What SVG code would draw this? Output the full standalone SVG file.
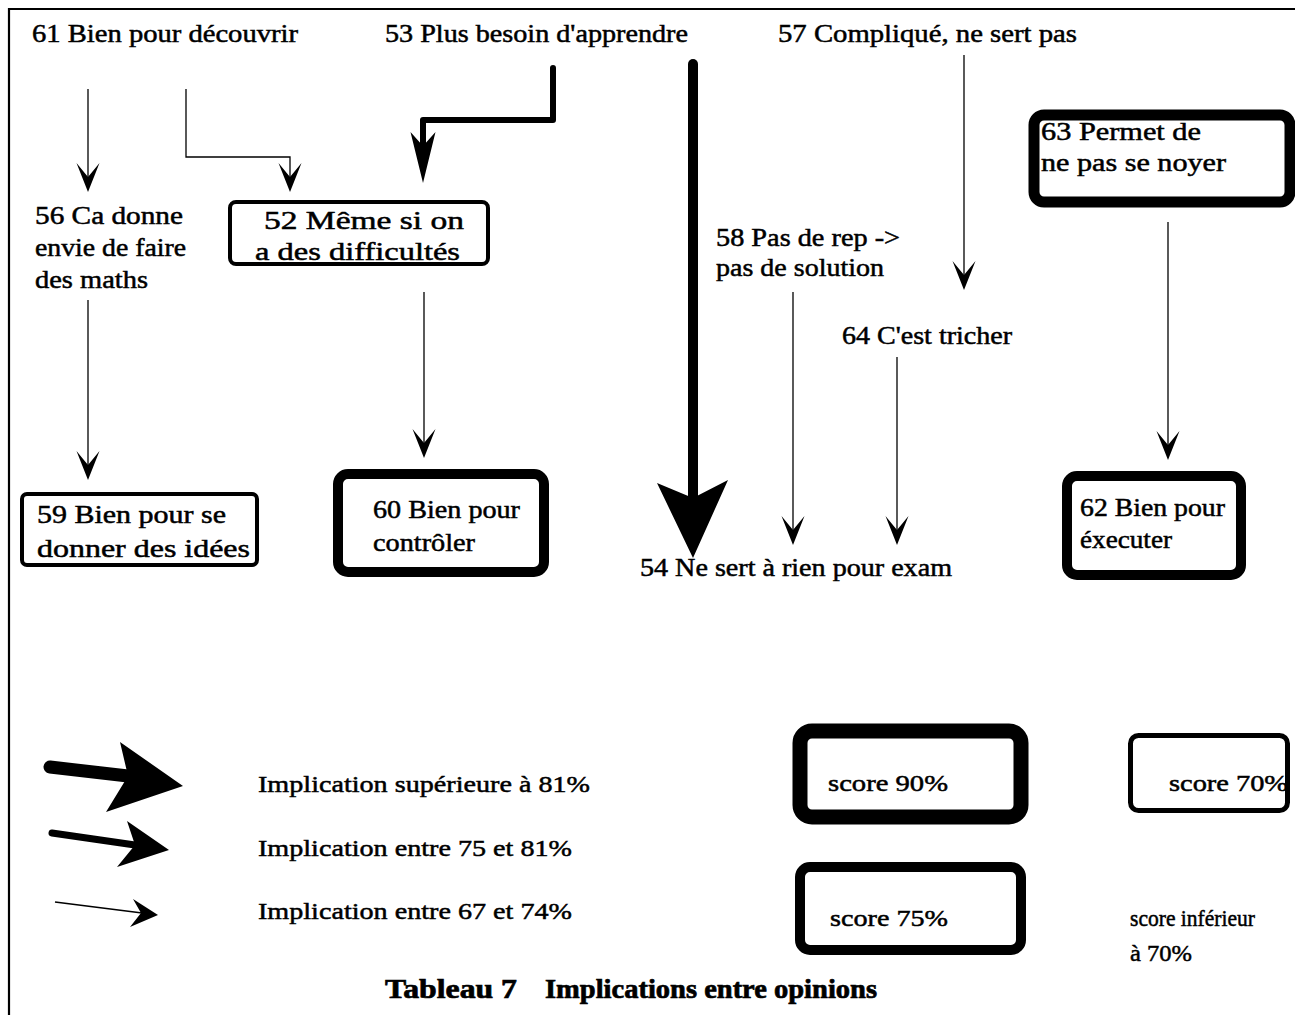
<svg xmlns="http://www.w3.org/2000/svg" width="1295" height="1015" viewBox="0 0 1295 1015">
<style>
text{font-family:"Liberation Serif","Times New Roman",serif;font-size:25px;fill:#000;stroke:#000;stroke-width:0.5}
.t{font-size:24px}
.title{font-size:28px;font-weight:bold;stroke-width:0.7}
.box{fill:none;stroke:#000}
.thin{fill:none;stroke:#000;stroke-width:1.3}
.head{fill:#000;stroke:none}
</style>
<defs>
<path id="hs" d="M-11.5,-29 L0,0 L11.5,-29 L0,-15 Z"/>
</defs>
<rect width="1295" height="1015" fill="#fff"/>
<g id="frame">
<path d="M9,1015 L9,9 L1295,9" fill="none" stroke="#000" stroke-width="2.2"/>
</g>
<g id="connectors">
<path class="thin" d="M88,89 L88,180"/>
<use href="#hs" class="head" x="88" y="192"/>
<path class="thin" d="M186,89 L186,157 L290,157 L290,180"/>
<use href="#hs" class="head" x="290" y="192"/>
<path d="M553,68 L553,120 L423,120 L423,145" fill="none" stroke="#000" stroke-width="6" stroke-linecap="round" stroke-linejoin="round"/>
<path class="head" d="M410.5,132 L423,183 L435.5,132 L423,146 Z"/>
<path d="M693,64 L693,520" fill="none" stroke="#000" stroke-width="10" stroke-linecap="round"/>
<path class="head" d="M657,483 L693,558 L728,480 L693,498 Z"/>
<path class="thin" d="M88,300 L88,468"/>
<use href="#hs" class="head" x="88" y="480"/>
<path class="thin" d="M424,292 L424,445"/>
<use href="#hs" class="head" x="424" y="458"/>
<path class="thin" d="M793,292 L793,533"/>
<use href="#hs" class="head" x="793" y="545"/>
<path class="thin" d="M897,357 L897,533"/>
<use href="#hs" class="head" x="897" y="545"/>
<path class="thin" d="M964,55 L964,278"/>
<use href="#hs" class="head" x="964" y="290"/>
<path class="thin" d="M1168,222 L1168,448"/>
<use href="#hs" class="head" x="1168" y="460"/>
</g>
<g id="n61"><text x="32" y="42" textLength="266" lengthAdjust="spacingAndGlyphs">61 Bien pour découvrir</text></g>
<g id="n53"><text x="385" y="42" textLength="303" lengthAdjust="spacingAndGlyphs">53 Plus besoin d'apprendre</text></g>
<g id="n57"><text x="778" y="42" textLength="299" lengthAdjust="spacingAndGlyphs">57 Compliqué, ne sert pas</text></g>
<g id="n56">
<text x="35" y="224" textLength="148" lengthAdjust="spacingAndGlyphs">56 Ca donne</text>
<text x="35" y="256" textLength="151" lengthAdjust="spacingAndGlyphs">envie de faire</text>
<text x="35" y="288" textLength="113" lengthAdjust="spacingAndGlyphs">des maths</text>
</g>
<g id="n52">
<rect class="box" x="230" y="202" width="258" height="62" rx="6" stroke-width="4"/>
<text x="264" y="229" textLength="200" lengthAdjust="spacingAndGlyphs">52 Même si on</text>
<text x="255" y="260" textLength="205" lengthAdjust="spacingAndGlyphs">a des difficultés</text>
</g>
<g id="n58">
<text x="716" y="246" textLength="184" lengthAdjust="spacingAndGlyphs">58 Pas de rep -&gt;</text>
<text x="716" y="276" textLength="168" lengthAdjust="spacingAndGlyphs">pas de solution</text>
</g>
<g id="n63">
<rect class="box" x="1034" y="115" width="256" height="87" rx="10" stroke-width="11"/>
<text x="1041" y="140" textLength="160" lengthAdjust="spacingAndGlyphs">63 Permet de</text>
<text x="1041" y="171" textLength="185" lengthAdjust="spacingAndGlyphs">ne pas se noyer</text>
</g>
<g id="n64"><text x="842" y="344" textLength="170" lengthAdjust="spacingAndGlyphs">64 C'est tricher</text></g>
<g id="n59">
<rect class="box" x="22" y="494" width="235" height="71" rx="5" stroke-width="4"/>
<text x="37" y="523" textLength="189" lengthAdjust="spacingAndGlyphs">59 Bien pour se</text>
<text x="37" y="557" textLength="213" lengthAdjust="spacingAndGlyphs">donner des idées</text>
</g>
<g id="n60">
<rect class="box" x="338" y="474" width="206" height="98" rx="10" stroke-width="10"/>
<text x="373" y="518" textLength="147" lengthAdjust="spacingAndGlyphs">60 Bien pour</text>
<text x="373" y="551" textLength="102" lengthAdjust="spacingAndGlyphs">contrôler</text>
</g>
<g id="n54"><text x="640" y="576" textLength="312" lengthAdjust="spacingAndGlyphs">54 Ne sert à rien pour exam</text></g>
<g id="n62">
<rect class="box" x="1067" y="476" width="174" height="99" rx="10" stroke-width="10"/>
<text x="1080" y="516" textLength="145" lengthAdjust="spacingAndGlyphs">62 Bien pour</text>
<text x="1080" y="548" textLength="92" lengthAdjust="spacingAndGlyphs">éxecuter</text>
</g>
<g id="legend">
<path d="M50,767 L128,776" fill="none" stroke="#000" stroke-width="13" stroke-linecap="round"/>
<path class="head" d="M120,742 L183,786 L106,812 L128,776 Z"/>
<path d="M52,833 L135,845" fill="none" stroke="#000" stroke-width="7" stroke-linecap="round"/>
<path class="head" d="M127,821 L169,850 L117,867 L135,845 Z"/>
<path d="M55,902 L150,914" fill="none" stroke="#000" stroke-width="1.6"/>
<path class="head" d="M133,899 L158,915 L130,927 L141,913 Z"/>
<text class="t" x="258" y="792" textLength="332" lengthAdjust="spacingAndGlyphs">Implication supérieure à 81%</text>
<text class="t" x="258" y="856" textLength="314" lengthAdjust="spacingAndGlyphs">Implication entre 75 et 81%</text>
<text class="t" x="258" y="919" textLength="314" lengthAdjust="spacingAndGlyphs">Implication entre 67 et 74%</text>
</g>
<g id="s90">
<rect class="box" x="800" y="731" width="221" height="86" rx="12" stroke-width="15"/>
<text class="t" x="828" y="791" textLength="120" lengthAdjust="spacingAndGlyphs">score 90%</text>
</g>
<g id="s70">
<rect class="box" x="1130.5" y="735.5" width="157" height="75" rx="8" stroke-width="5"/>
<text class="t" x="1169" y="791" textLength="119" lengthAdjust="spacingAndGlyphs">score 70%</text>
</g>
<g id="s75">
<rect class="box" x="800" y="867" width="221" height="83" rx="10" stroke-width="10"/>
<text class="t" x="830" y="926" textLength="118" lengthAdjust="spacingAndGlyphs">score 75%</text>
</g>
<g id="s_inf">
<text class="t" x="1130" y="926" textLength="125" lengthAdjust="spacingAndGlyphs">score inférieur</text>
<text class="t" x="1130" y="961" textLength="62" lengthAdjust="spacingAndGlyphs">à 70%</text>
</g>
<g id="title">
<text class="title" x="385" y="998" textLength="132" lengthAdjust="spacingAndGlyphs">Tableau 7</text>
<text class="title" x="545" y="998" textLength="332" lengthAdjust="spacingAndGlyphs">Implications entre opinions</text>
</g>
</svg>
